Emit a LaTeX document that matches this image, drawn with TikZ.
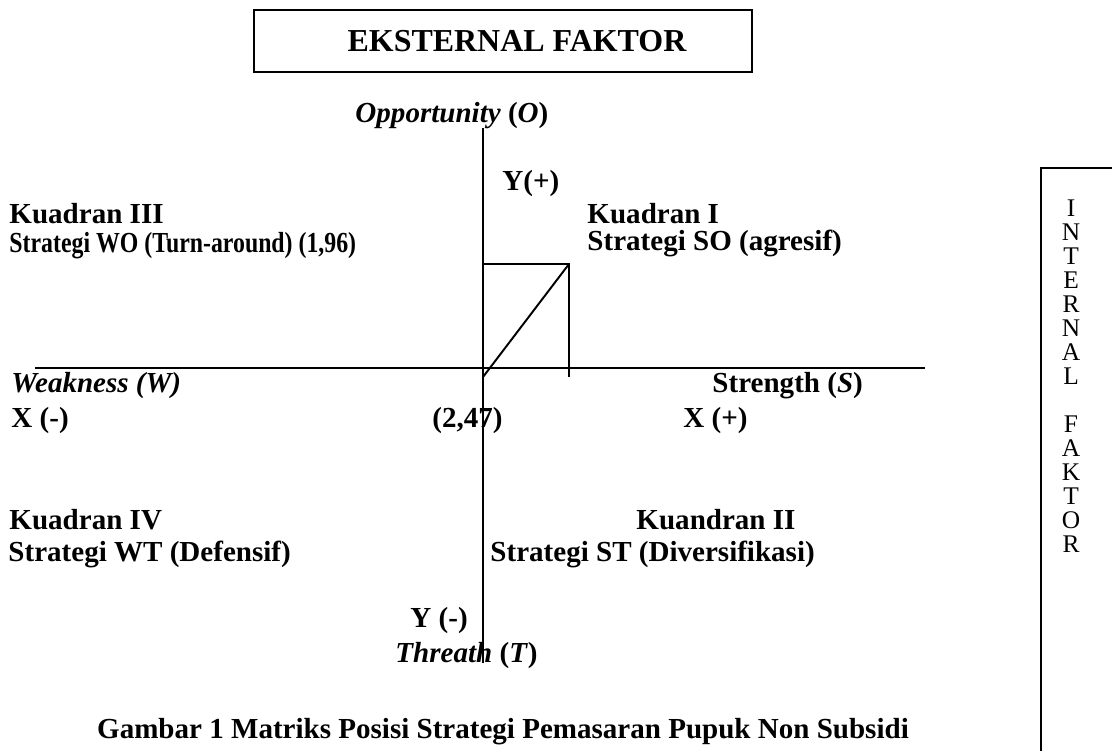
\documentclass[tikz,border=0pt]{standalone}
\usepackage{fontspec}
\setmainfont{Liberation Serif}
\usepackage{graphicx}
\tikzset{
  axis/.style={line width=0.8pt},
  frame/.style={draw, line width=0.8pt, inner sep=0pt},
  lbl/.style={anchor=base west, inner sep=0pt, font=\fontsize{12}{14}\selectfont\bfseries},
  letter/.style={anchor=base, inner sep=0pt, font=\fontsize{10.5}{12}\selectfont},
}

\begin{document}
\begin{tikzpicture}[x=0.4132pt, y=-0.4132pt]
  \useasboundingbox (0,0) rectangle (1112,750);

  % header box
  \node[frame, minimum width=205.8pt, minimum height=25.6pt] (extbox) at (503,41) {};
  \node[inner sep=0pt, font=\fontsize{13.2}{15}\selectfont\bfseries] (ext) at (517,41) {EKSTERNAL FAKTOR};

  % axes
  \coordinate (otop) at (483,128);
  \coordinate (tbot) at (483,663);
  \coordinate (wl) at (35,368);
  \coordinate (sr) at (925,368);
  \draw[axis] (otop) -- (tbot);
  \draw[axis] (wl) -- (sr);

  % position point
  \coordinate (pt) at (569,264);
  \coordinate (py) at (483,264);
  \coordinate (px) at (569,377);
  \coordinate (org) at (483,377);
  \draw[axis] (py) -- (pt) -- (px);
  \draw[axis] (org) -- (pt);

  % axis labels
  \node[lbl] (opp) at (355,122) {\textit{Opportunity} (\textit{O})};
  \node[lbl] (yplus) at (502,190) {Y(+)};
  \node[lbl] (weak) at (11,392) {\textit{Weakness (W)}};
  \node[lbl] (str) at (712,392) {Strength (\textit{S})};
  \node[lbl] (xminus) at (11,427) {X (-)};
  \node[lbl] (val) at (432,427) {(2,47)};
  \node[lbl] (xplus) at (683,427) {X (+)};
  \node[lbl] (yminus) at (410,627) {Y (-)};
  \node[lbl] (thr) at (395,662) {\textit{Threath} (\textit{T})};

  % quadrants
  \node[lbl] (k3) at (9,223) {Kuadran III};
  \node[lbl] (s3) at (9,252) {\scalebox{0.82}[1]{Strategi WO (Turn-around) (1,96)}};
  \node[lbl] (k1) at (587,223) {Kuadran I};
  \node[lbl] (s1) at (587,250) {Strategi SO (agresif)};
  \node[lbl] (k4) at (9,529) {Kuadran IV};
  \node[lbl] (s4) at (8,561) {Strategi WT (Defensif)};
  \node[lbl] (k2) at (636,529) {Kuandran II};
  \node[lbl] (s2) at (490,561) {Strategi ST (Diversifikasi)};

  % internal faktor box
  \coordinate (ibl) at (1041,760);
  \coordinate (itl) at (1041,168);
  \coordinate (itr) at (1120,168);
  \draw[axis] (ibl) -- (itl) -- (itr);
  \foreach \ch/\k in {I/0,N/1,T/2,E/3,R/4,N/5,A/6,L/7,F/9,A/10,K/11,T/12,O/13,R/14}
    \node[letter] (int\k) at (1071,216+24*\k) {\ch};

  % caption
  \node[anchor=base, inner sep=0pt, font=\fontsize{12}{14}\selectfont\bfseries] (cap) at (503,738) {Gambar 1 Matriks Posisi Strategi Pemasaran Pupuk Non Subsidi};

\end{tikzpicture}
\end{document}
